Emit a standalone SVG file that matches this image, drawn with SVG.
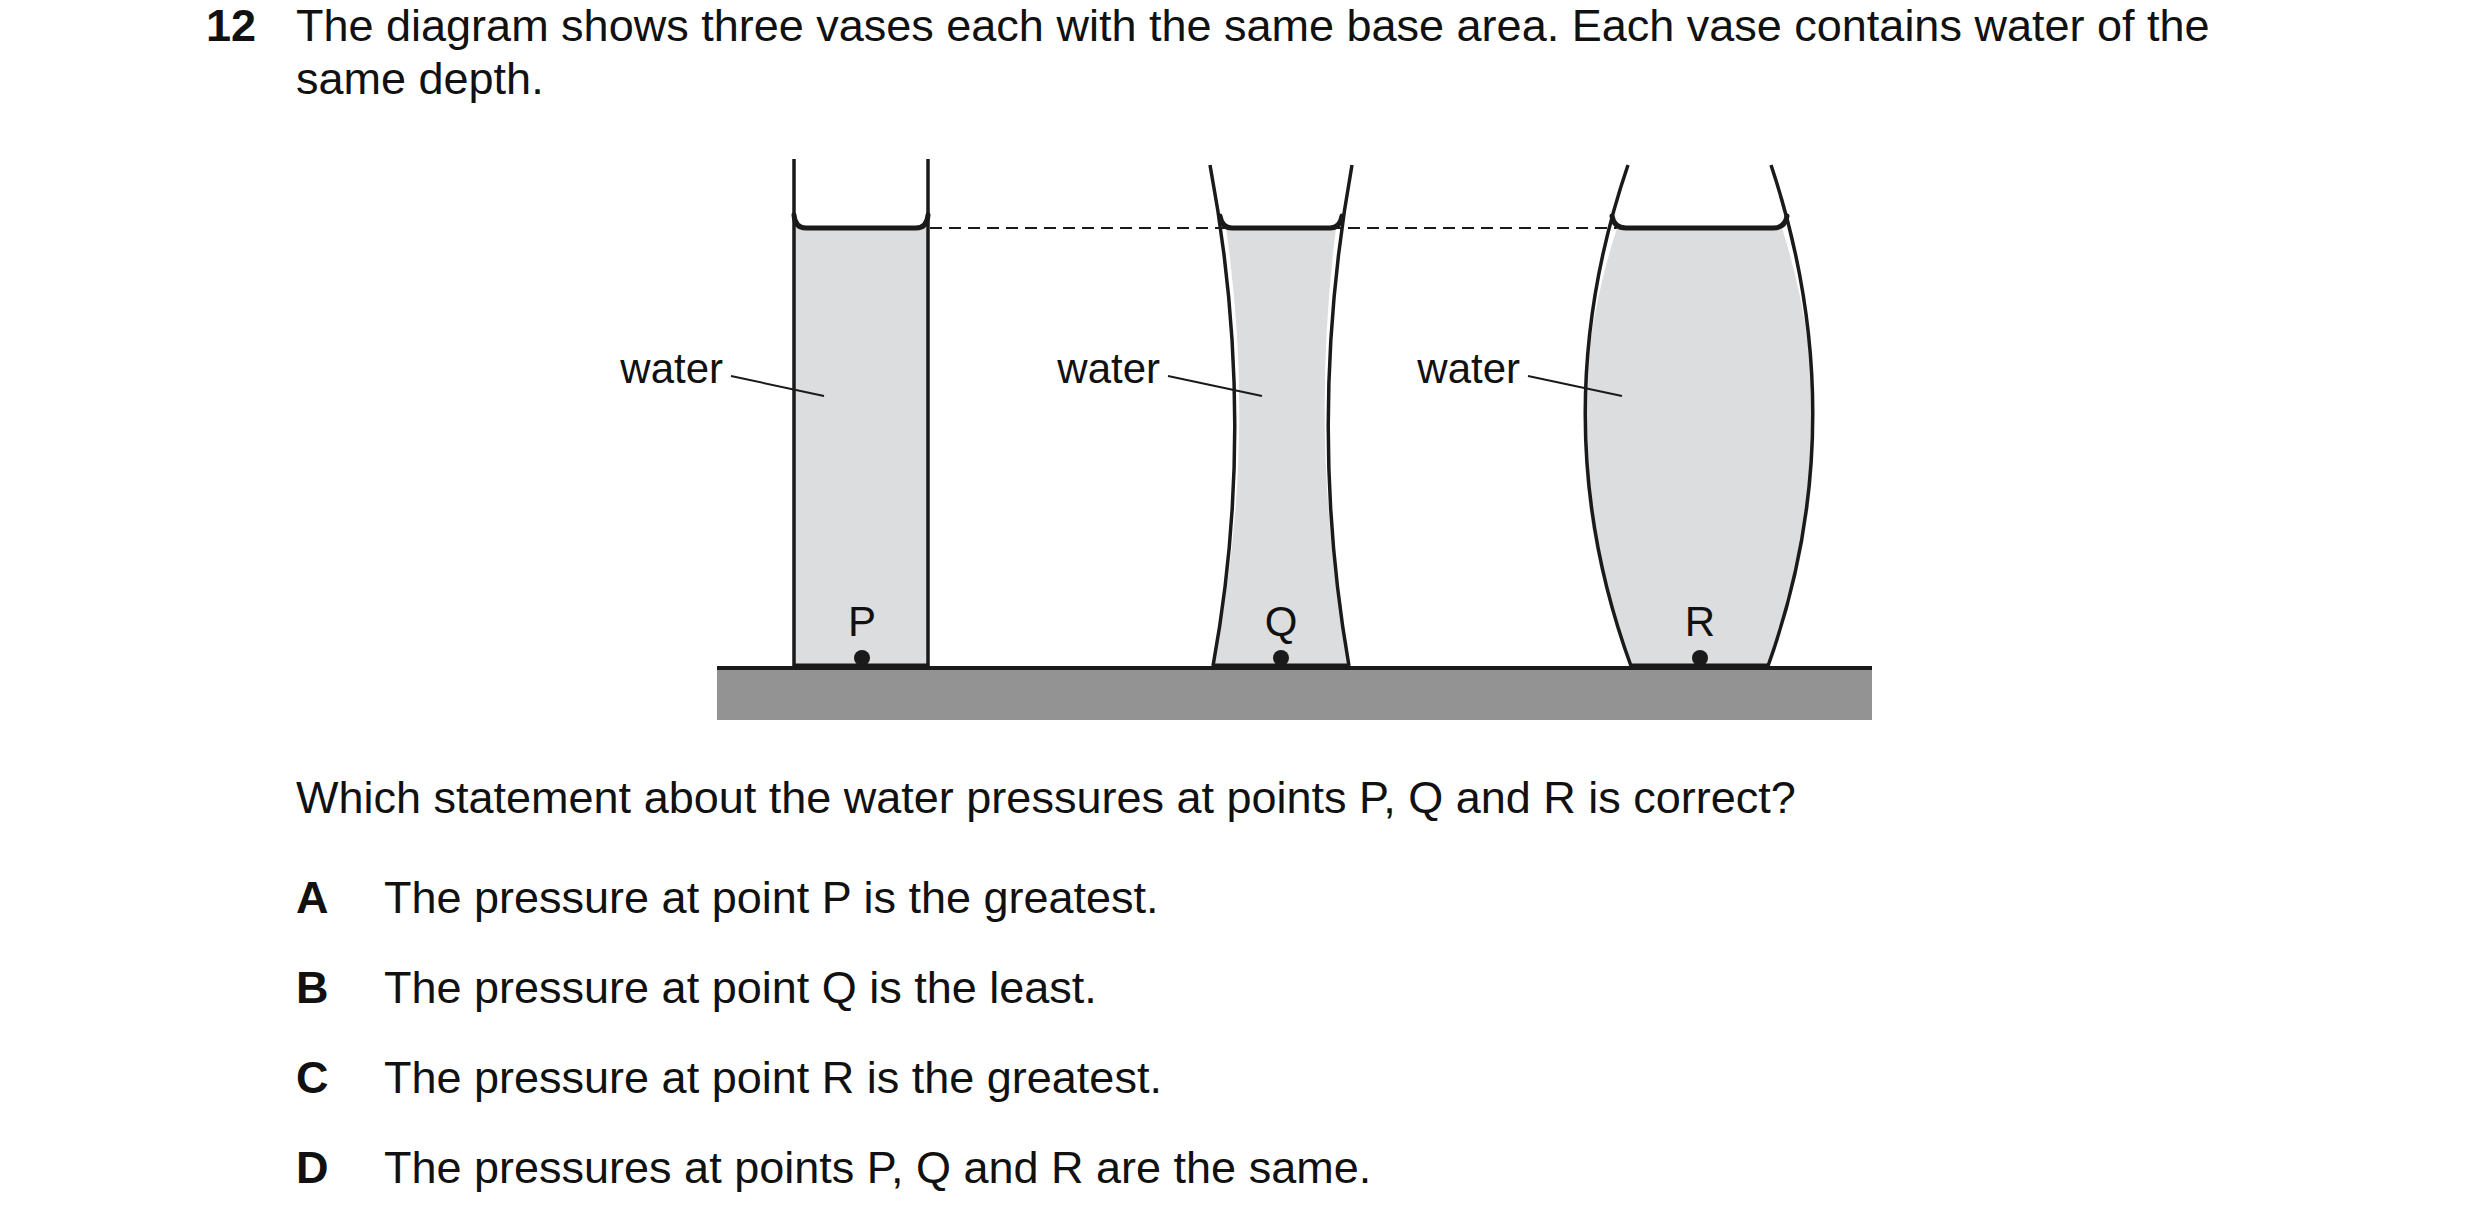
<svg xmlns="http://www.w3.org/2000/svg" width="2480" height="1232" viewBox="0 0 2480 1232">
<style>
.t{font-family:"Liberation Sans",Arial,sans-serif;font-size:45px;fill:#111}
.l{font-family:"Liberation Sans",Arial,sans-serif;font-size:42px;fill:#111}
.v{fill:none;stroke:#1a1a1a;stroke-width:3.5}
.w{fill:#dcdddf;stroke:none}
.s{fill:none;stroke:#1a1a1a;stroke-width:5;stroke-linecap:round}
.ld{stroke:#1a1a1a;stroke-width:2}
</style>
<rect width="2480" height="1232" fill="#fff"/>
<text class="t" x="206" y="41" font-weight="bold">12</text>
<text class="t" x="296" y="41">The diagram shows three vases each with the same base area. Each vase contains water of the</text>
<text class="t" x="296" y="94">same depth.</text>
<rect x="717" y="668" width="1155" height="52" fill="#939393"/>
<line x1="717" y1="668" x2="1872" y2="668" stroke="#1a1a1a" stroke-width="4"/>
<line x1="930" y1="228" x2="1617" y2="228" stroke="#1a1a1a" stroke-width="2" stroke-dasharray="12,7"/>
<g id="vaseP">
<rect class="w" x="794" y="228" width="134" height="438"/>
<path class="v" d="M794 159 V666 M928 159 V666"/>
<path class="s" d="M794 215 Q795 228 806 228 H916 Q927 228 928 215"/>
<line x1="794" y1="666" x2="928" y2="666" stroke="#1a1a1a" stroke-width="5"/>
<circle cx="862" cy="658" r="8" fill="#1a1a1a"/>
<text class="l" x="862" y="636" text-anchor="middle">P</text>
</g>
<g id="vaseQ">
<path class="w" d="M1226 228 Q1258 450 1213 666 H1349 Q1308 450 1336 228 Z"/>
<path class="v" d="M1210 165 Q1258 420 1213 666 M1352 165 Q1306 420 1349 666"/>
<path class="s" d="M1220 216 Q1222 228 1232 228 H1330 Q1340 228 1342 216"/>
<line x1="1213" y1="666" x2="1349" y2="666" stroke="#1a1a1a" stroke-width="5"/>
<circle cx="1281" cy="658" r="8" fill="#1a1a1a"/>
<text class="l" x="1281" y="636" text-anchor="middle">Q</text>
</g>
<g id="vaseR">
<path class="w" d="M1617 228 Q1545 450 1631 666 H1768 Q1852 450 1782 228 Z"/>
<path class="v" d="M1628 165 Q1541 420 1631 666 M1771 165 Q1856 420 1768 666"/>
<path class="s" d="M1612 216 Q1614 228 1626 228 H1773 Q1785 228 1787 216"/>
<line x1="1631" y1="666" x2="1768" y2="666" stroke="#1a1a1a" stroke-width="5"/>
<circle cx="1700" cy="658" r="8" fill="#1a1a1a"/>
<text class="l" x="1700" y="636" text-anchor="middle">R</text>
</g>
<g id="labels">
<text class="l" x="723" y="383" text-anchor="end">water</text>
<line class="ld" x1="731" y1="376" x2="824" y2="396"/>
<text class="l" x="1160" y="383" text-anchor="end">water</text>
<line class="ld" x1="1168" y1="376" x2="1262" y2="396"/>
<text class="l" x="1520" y="383" text-anchor="end">water</text>
<line class="ld" x1="1528" y1="376" x2="1622" y2="396"/>
</g>
<text class="t" x="296" y="813">Which statement about the water pressures at points P, Q and R is correct?</text>
<g class="t">
<text x="296" y="913" font-weight="bold">A</text><text x="384" y="913">The pressure at point P is the greatest.</text>
<text x="296" y="1003" font-weight="bold">B</text><text x="384" y="1003">The pressure at point Q is the least.</text>
<text x="296" y="1093" font-weight="bold">C</text><text x="384" y="1093">The pressure at point R is the greatest.</text>
<text x="296" y="1183" font-weight="bold">D</text><text x="384" y="1183">The pressures at points P, Q and R are the same.</text>
</g>
</svg>
